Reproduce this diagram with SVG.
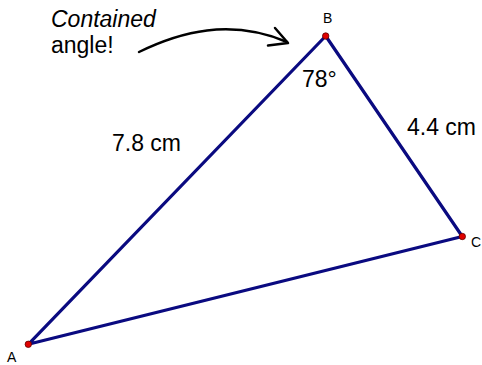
<svg xmlns="http://www.w3.org/2000/svg" width="482" height="365" viewBox="0 0 482 365">
<style>
.t{font-family:"Liberation Sans",Arial,sans-serif;fill:#000}
.big{font-size:23px}
.lbl{font-size:14px}
.edge{stroke:#0a0a80;stroke-width:3.2;fill:none;stroke-linecap:round;stroke-linejoin:round}
.pt{fill:#e00000;stroke:#600000;stroke-width:0.8}
</style>
<rect width="482" height="365" fill="#fff"/>
<g id="connectors">
<path class="edge" d="M28.3,344.3 L325.7,36 L462.3,236.5 Z"/>
<path d="M139,52 C180,32 230,18 287,42" fill="none" stroke="#000" stroke-width="2.5" stroke-linecap="round"/>
<path d="M275,28 L288,43 L268,45.5" fill="none" stroke="#000" stroke-width="2.5" stroke-linecap="round" stroke-linejoin="round"/>
</g>
<g id="A"><circle class="pt" cx="28.3" cy="344.3" r="3.2"/><text class="t lbl" x="7" y="362">A</text></g>
<g id="B"><circle class="pt" cx="325.7" cy="36" r="3.2"/><text class="t lbl" x="323" y="23">B</text></g>
<g id="C"><circle class="pt" cx="462.3" cy="236.5" r="3.2"/><text class="t lbl" x="471" y="247">C</text></g>
<g id="labels">
<text class="t big" x="51" y="26.5" font-style="italic">Contained</text>
<text class="t big" x="51" y="52.5">angle!</text>
<text class="t big" x="112" y="151">7.8 cm</text>
<text class="t big" x="407" y="135">4.4 cm</text>
<text class="t big" x="302" y="87">78°</text>
</g>
</svg>
